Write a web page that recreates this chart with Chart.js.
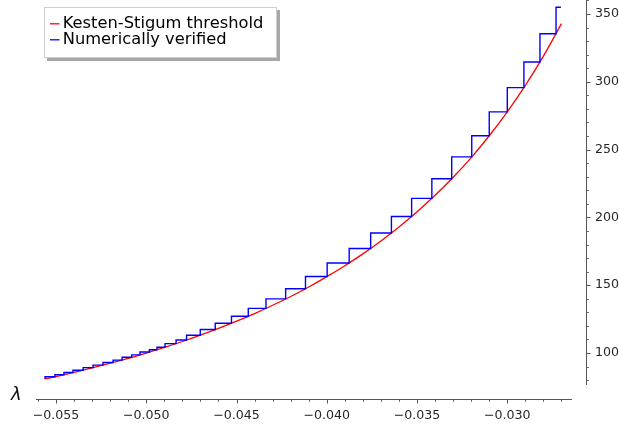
<!DOCTYPE html>
<html><head><meta charset="utf-8">
<script src="https://cdn.jsdelivr.net/npm/chart.js@4"></script>
<style>html,body{margin:0;padding:0;background:#fff;overflow:hidden}#wrap{width:619px;height:429px}</style>
</head><body><div id="wrap"><canvas id="c" width="619" height="429"></canvas></div>
<script>
// Kesten-Stigum threshold curve (lambda, d)
const ksLambda = [-0.0556,-0.055,-0.054,-0.053,-0.052,-0.051,-0.050,-0.049,-0.048,-0.047,-0.046,-0.045,-0.044,-0.043,-0.042,-0.041,-0.040,-0.039,-0.038,-0.037,-0.036,-0.035,-0.034,-0.033,-0.032,-0.031,-0.030,-0.029,-0.028,-0.027];
const ksDegree = [80.9,82.6,85.7,89.0,92.5,96.1,100.0,104.1,108.5,113.2,118.2,123.5,129.1,135.2,141.7,148.7,156.3,164.4,173.1,182.6,192.9,204.1,216.3,229.6,244.1,260.2,277.8,297.3,318.9,342.9];
// Numerically verified step function: corner points (lambda, d)
const verLambda = [-0.05561,-0.05506,-0.05456,-0.05406,-0.05350,-0.05295,-0.05240,-0.05184,-0.05134,-0.05081,-0.05035,-0.04983,-0.04941,-0.04896,-0.04835,-0.04777,-0.04701,-0.04618,-0.04528,-0.04435,-0.04337,-0.04228,-0.04118,-0.03998,-0.03876,-0.03757,-0.03642,-0.03530,-0.03418,-0.03308,-0.03197,-0.03100,-0.03000,-0.02908,-0.02819,-0.02730,-0.02703];
const verDegree = [80.8,82.5,84.0,85.6,87.3,89.2,91.1,93.0,94.8,96.9,98.6,100.7,102.4,104.3,106.9,109.6,113.1,117.3,121.9,127.1,132.9,139.9,147.4,156.4,166.4,177.1,188.5,200.7,214.0,228.5,244.6,260.2,277.8,295.7,314.6,335.4,355.0];
const seriesNames = ['Kesten-Stigum threshold','Numerically verified'];
const seriesColors = ['#ff0000','#0000ff'];
// axis ticks
const xMajorTicks = [-0.055,-0.050,-0.045,-0.040,-0.035,-0.030];
const xMinorStep = 0.001, xTickFrom = -0.056, xTickTo = -0.027;
const yMajorTicks = [100,150,200,250,300,350];
const yMinorStep = 10, yTickFrom = 80, yTickTo = 360;
const xAxisLabel = 'λ';

const xTickValues = [];
for (let k = Math.round(xTickFrom/xMinorStep); k <= Math.round(xTickTo/xMinorStep); k++) xTickValues.push(+(k*xMinorStep).toFixed(4));
const yTickValues = [];
for (let v = yTickFrom; v <= yTickTo; v += yMinorStep) yTickValues.push(v);
const isXMajor = v => xMajorTicks.some(m => Math.abs(m - v) < 1e-7);
const isYMajor = v => yMajorTicks.includes(v);
const fmtX = v => (v < 0 ? '\u2212' : '') + Math.abs(v).toFixed(3);

const tickFont = {family: 'DejaVu Sans', size: 12.6};
const axisColor = '#555';
const textColor = '#262626';

const sageAxes = {
  id: 'sageAxes',
  afterDraw(chart) {
    const {ctx} = chart; const x = chart.scales.x, y = chart.scales.y;
    ctx.save();
    ctx.strokeStyle = axisColor; ctx.lineWidth = 1;
    const yb = Math.round(y.bottom) + 0.5;
    const xr = Math.round(x.right) + 0.5;
    ctx.beginPath();
    ctx.moveTo(x.getPixelForValue(-0.05611), yb); ctx.lineTo(x.getPixelForValue(-0.02642), yb);
    ctx.moveTo(xr, y.getPixelForValue(360.3)); ctx.lineTo(xr, y.getPixelForValue(76.4));
    xTickValues.forEach(v => {
      const px = Math.round(x.getPixelForValue(v)) + 0.5;
      ctx.moveTo(px, yb); ctx.lineTo(px, yb + (isXMajor(v) ? 4 : 2.2));
    });
    yTickValues.forEach(v => {
      const py = Math.round(y.getPixelForValue(v)) + 0.5;
      ctx.moveTo(xr, py); ctx.lineTo(xr + (isYMajor(v) ? 4 : 2.2), py);
    });
    ctx.stroke();
    // lambda label
    ctx.fillStyle = '#111';
    ctx.font = 'italic 18px "DejaVu Sans"';
    ctx.textBaseline = 'alphabetic'; ctx.textAlign = 'left';
    ctx.fillText(xAxisLabel, 11, 400);
    // legend
    const lx = 44, ly = 7, lw = 233, lh = 51;
    ctx.fillStyle = '#a8a8a8';
    ctx.fillRect(lx + 3, ly + 3, lw, lh);
    ctx.fillStyle = '#fff';
    ctx.fillRect(lx, ly, lw, lh);
    ctx.strokeStyle = '#cfcfcf'; ctx.lineWidth = 1;
    ctx.strokeRect(lx + 0.5, ly + 0.5, lw - 1, lh - 1);
    ctx.font = '16.3px "DejaVu Sans"';
    seriesNames.forEach((name, i) => {
      const base = 28.3 + i * 16;
      ctx.strokeStyle = seriesColors[i]; ctx.lineWidth = 1.3;
      ctx.beginPath(); ctx.moveTo(50, base - 4.5); ctx.lineTo(59.5, base - 4.5); ctx.stroke();
      ctx.fillStyle = '#000';
      ctx.fillText(name, 62.7, base);
    });
    ctx.restore();
  }
};

new Chart(document.getElementById('c'), {
  type: 'line',
  data: {
    datasets: [
      {label: seriesNames[0], data: ksLambda.map((l, i) => ({x: l, y: ksDegree[i]})),
       borderColor: seriesColors[0], borderWidth: 1.3, pointRadius: 0, fill: false,
       cubicInterpolationMode: 'monotone', order: 1},
      {label: seriesNames[1], data: verLambda.map((l, i) => ({x: l, y: verDegree[i]})),
       borderColor: seriesColors[1], borderWidth: 1.4, pointRadius: 0, fill: false,
       stepped: 'after', order: 0}
    ]
  },
  options: {
    responsive: false, animation: false, devicePixelRatio: 1,
    layout: {padding: {left: 36, top: 0, right: 0, bottom: 0}},
    plugins: {legend: {display: false}, tooltip: {enabled: false}},
    scales: {
      x: {type: 'linear', position: 'bottom', min: -0.05611, max: -0.02564,
          afterBuildTicks: s => { s.ticks = xTickValues.map(v => ({value: v})); },
          afterFit: s => { s.height = 30; s.paddingLeft = 0; s.paddingRight = 0; s.paddingTop = 0; s.paddingBottom = 0; },
          grid: {display: false, drawTicks: false, tickLength: 0}, border: {display: false},
          ticks: {autoSkip: false, maxRotation: 0, minRotation: 0, padding: 9, font: tickFont, color: textColor,
                  callback: v => isXMajor(v) ? fmtX(v) : ''}},
      y: {type: 'linear', position: 'right', min: 66.1, max: 360.3,
          afterBuildTicks: s => { s.ticks = yTickValues.map(v => ({value: v})); },
          afterFit: s => { s.width = 33; s.paddingLeft = 0; s.paddingRight = 0; s.paddingTop = 0; s.paddingBottom = 0; },
          grid: {display: false, drawTicks: false, tickLength: 0}, border: {display: false},
          ticks: {autoSkip: false, padding: 9, crossAlign: 'near', font: tickFont, color: textColor,
                  callback: v => isYMajor(v) ? String(v) : ''}}
    }
  },
  plugins: [sageAxes]
});
</script>
</body></html>
